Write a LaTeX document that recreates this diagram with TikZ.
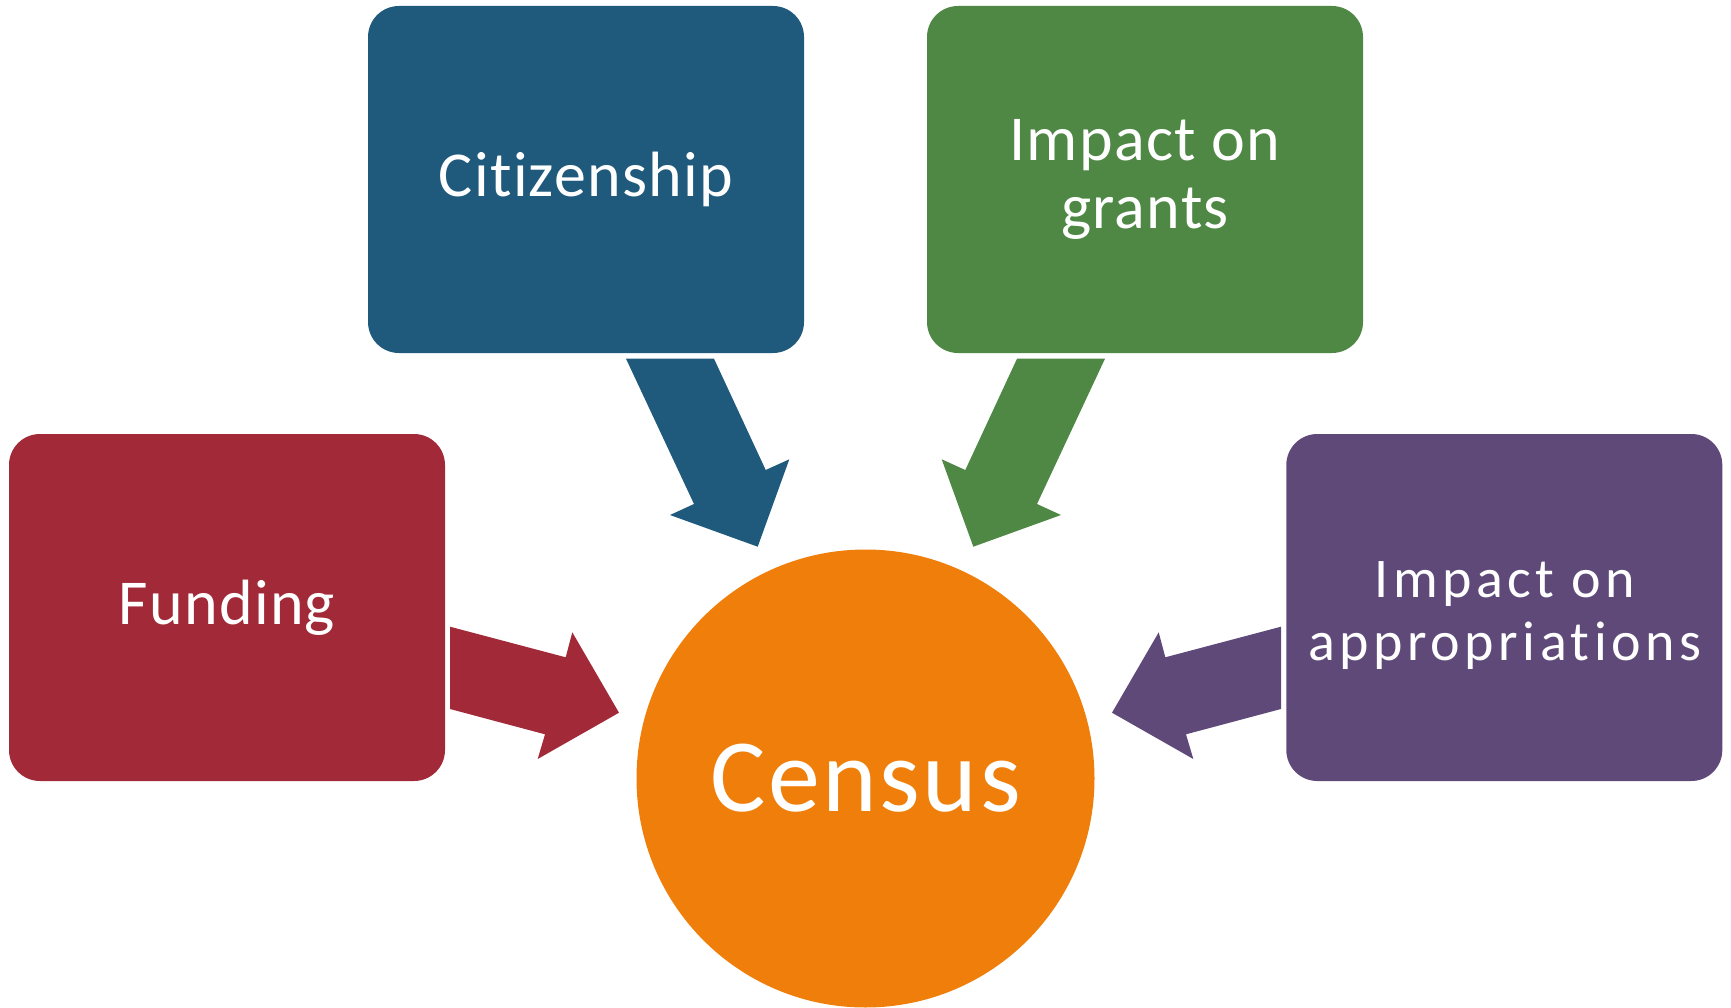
\documentclass[tikz,border=0pt]{standalone}
\usepackage{fontspec}
\setmainfont{Carlito}[Ligatures={NoCommon,NoContextual}]
\newfontfamily\boxfont{Carlito}[LetterSpace=2.0,Ligatures={NoCommon,NoContextual}]
\newfontfamily\widefont{Carlito}[LetterSpace=8.0,Ligatures={NoCommon,NoContextual}]
\newfontfamily\hubfont{Carlito}[LetterSpace=2.5,Ligatures={NoCommon,NoContextual}]
\definecolor{cblue}{RGB}{31,89,124}
\definecolor{cgreen}{RGB}{79,136,69}
\definecolor{cred}{RGB}{161,41,56}
\definecolor{cpurple}{RGB}{95,73,120}
\definecolor{corange}{RGB}{239,127,10}
\begin{document}
\begin{tikzpicture}[x=1pt,y=-1pt,
  box/.style={rounded corners=31pt, minimum width=436pt, minimum height=347pt, inner sep=0pt, text=white, align=center},
  hub/.style={circle, minimum size=458pt, inner sep=0pt, fill=corange, text=white},
  lbl/.style={text=white, align=center, inner sep=0pt},
  bigtxt/.style={font=\boxfont\fontsize{64}{68.5}\selectfont},
  midtxt/.style={font=\widefont\fontsize{56}{63}\selectfont}]
\useasboundingbox (0,0) rectangle (1731,1008);
\node[box, fill=cblue, bigtxt] (cit) at (586,179.5) {Citizenship};
\node[box, fill=cgreen, bigtxt] (gra) at (1145,179.5) {Impact on\\grants};
\node[box, fill=cred, bigtxt] (fun) at (227,607.5) {Funding};
\node[box, fill=cpurple] (app) at (1504.3,607.5) {};
\node[lbl, midtxt] (appl) at (1505,615.5) {Impact on\\appropriations};
\node[hub, font=\hubfont\fontsize{104}{110}\selectfont] (cen) at (865.5,778.5) {Census};
% block arrows
\fill[cblue] (626,358.7) -- (714,358.7) -- (765.7,470) -- (789.3,459.3) -- (757.7,546.7) -- (670,515) -- (694,504) -- cycle;
\fill[cgreen] (1105,358.7) -- (1017,358.7) -- (965.3,470) -- (941.7,459.3) -- (973.3,546.7) -- (1061,515) -- (1037,504) -- cycle;
\fill[cred] (450,626.7) -- (565.7,657.3) -- (572.3,632.3) -- (619,712.7) -- (537.7,759) -- (545,734.3) -- (450,709) -- cycle;
\fill[cpurple] (1281,626.7) -- (1165.3,657.3) -- (1158.7,632.3) -- (1112,712.7) -- (1193.3,759) -- (1186,734.3) -- (1281,709) -- cycle;
\end{tikzpicture}
\end{document}
